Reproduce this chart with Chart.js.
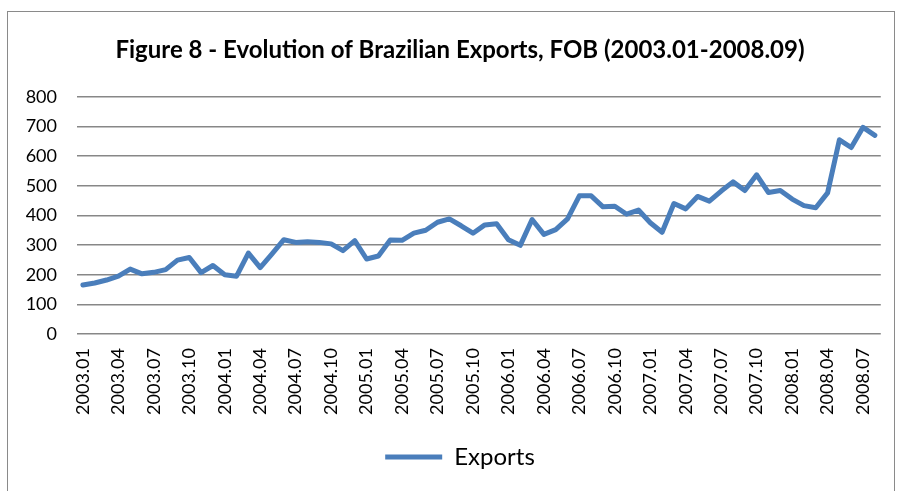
<!DOCTYPE html>
<html>
<head>
<meta charset="utf-8">
<script src="https://cdn.jsdelivr.net/npm/chart.js@4"></script>
<style>
  html, body { margin: 0; padding: 0; background: #fff; }
  #wrap { position: relative; width: 899px; height: 491px; }
  #frame { position: absolute; left: 7px; top: 11px; width: 888px; height: 490px;
           border: 1.5px solid #8a8a8a; border-bottom: none; box-sizing: border-box; }
  canvas { position: absolute; left: 0; top: 0; }
</style>
</head>
<body>
<div id="wrap">
  <div id="frame"></div>
  <canvas id="LineGraph" width="899" height="491"></canvas>
</div>
<script>
// monthly categories 2003.01 - 2008.08
var months = [];
for (var y = 2003; y <= 2008; y++) {
  for (var m = 1; m <= 12; m++) {
    if (y === 2008 && m > 8) break;
    months.push(y + '.' + (m < 10 ? '0' + m : m));
  }
}

var exportsFOB = [165, 172, 182, 195, 219, 203, 208, 217, 249, 258, 207, 231,
                  200, 195, 273, 224, 270, 318, 309, 311, 309, 304, 281, 315,
                  253, 263, 317, 316, 340, 350, 377, 388, 365, 340, 368, 372,
                  318, 299, 386, 336, 352, 388, 466, 466, 429, 431, 404, 418,
                  375, 343, 440, 422, 464, 448, 482, 513, 484, 537, 477, 484,
                  455, 433, 426, 476, 655, 629, 697, 670];

var yTicks = [0, 100, 200, 300, 400, 500, 600, 700, 800];

var FONT = 'Lato, "Open Sans", sans-serif';

// Excel centres title and legend a bit right of the canvas middle
var shiftBoxes = {
  id: 'shiftBoxes',
  afterLayout: function (chart) {
    if (chart.titleBlock) chart.titleBlock.left = 37;
    if (chart.legend) chart.legend.left = 37;
  }
};

var ctx = document.getElementById("LineGraph");
var myLineGraph = new Chart(ctx, {
  type: 'line',
  data: {
    labels: months,
    datasets: [{
      label: 'Exports',
      data: exportsFOB,
      borderColor: '#4a7ebb',
      backgroundColor: '#4a7ebb',
      borderWidth: 5,
      pointRadius: 0,
      tension: 0,
      borderJoinStyle: 'round',
      borderCapStyle: 'round'
    }]
  },
  options: {
    responsive: false,
    animation: false,
    layout: { padding: { left: 0, right: 16, top: 0, bottom: 12 } },
    plugins: {
      title: {
        display: true,
        text: 'Figure 8 - Evolution of Brazilian Exports, FOB (2003.01-2008.09)',
        color: '#000',
        font: { family: FONT, size: 24, weight: 'bold' },
        padding: { top: 36, bottom: 32 }
      },
      legend: {
        position: 'bottom',
        labels: {
          usePointStyle: true,
          pointStyle: 'line',
          pointStyleWidth: 57,
          color: '#000',
          font: { family: FONT, size: 24 }
        }
      },
      tooltip: { enabled: false }
    },
    scales: {
      x: {
        offset: true,
        grid: { display: false, drawTicks: false },
        border: { display: false },
        ticks: {
          autoSkip: false,
          minRotation: 90,
          maxRotation: 90,
          padding: 14,
          color: '#000',
          font: { family: FONT, size: 18 },
          callback: function (val, idx) { return idx % 3 === 0 ? months[idx] : null; }
        },
        afterFit: function (scale) { scale.height = 101; }
      },
      y: {
        min: 0,
        max: 800,
        afterBuildTicks: function (scale) {
          scale.ticks = yTicks.map(function (v) { return { value: v }; });
        },
        grid: { color: '#878787', lineWidth: 1.5, drawTicks: false },
        border: { display: false },
        ticks: {
          padding: 20,
          color: '#000',
          font: { family: FONT, size: 18 }
        },
        afterFit: function (scale) { scale.width = 77; }
      }
    }
  },
  plugins: [shiftBoxes]
});
</script>
</body>
</html>
